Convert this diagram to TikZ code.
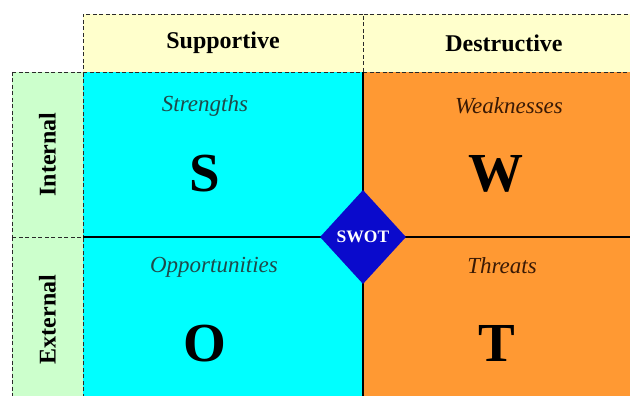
\documentclass[tikz,border=0pt]{standalone}
\usepackage{fontspec}
\setmainfont{Liberation Serif}
\usetikzlibrary{shapes.geometric}

\definecolor{headyellow}{HTML}{FFFFCC}
\definecolor{sidegreen}{HTML}{CCFFCC}
\definecolor{supcyan}{HTML}{00FFFF}
\definecolor{desorange}{HTML}{FF9933}
\definecolor{swotblue}{HTML}{0A0ACC}
\definecolor{tealtext}{HTML}{1F4A4A}
\definecolor{browntext}{HTML}{3A1A05}
\definecolor{dashgray}{HTML}{2A2A2A}

\begin{document}
\begin{tikzpicture}[x=1pt,y=-1pt,
  cell/.style={inner sep=0pt, outer sep=0pt, anchor=north west, minimum width=280pt, minimum height=165pt},
  framed/.style={draw=dashgray, dash pattern=on 4pt off 2.5pt, line width=0.9pt},
  header/.style={cell, framed, fill=headyellow, minimum height=58pt,
    font=\fontsize{24}{28}\selectfont\bfseries},
  side/.style={framed, fill=sidegreen, inner sep=0pt, outer sep=0pt, rotate=90,
    minimum width=165pt, minimum height=71pt, font=\fontsize{24}{28}\selectfont\bfseries},
  quadlabel/.style={font=\fontsize{23}{26}\selectfont\itshape, inner sep=0pt},
  bigletter/.style={font=\fontsize{55}{60}\selectfont\bfseries, inner sep=0pt},
  divider/.style={line width=1.8pt, black},
]
\useasboundingbox (0,0) rectangle (630,396);
\clip (0,0) rectangle (630,396);

% quadrant backgrounds
\node[cell, fill=supcyan] (S) at (83,72) {};
\node[cell, fill=desorange, minimum width=290pt] (W) at (363,72) {};
\node[cell, fill=supcyan] (O) at (83,237) {};
\node[cell, fill=desorange, minimum width=290pt] (T) at (363,237) {};

% column headers
\node[header] (sup) at (83,14) {Supportive};
\node[header, minimum width=282pt] (des) at (363,14) {Destructive};

% row headers
\node[side] (int) at (47.5,154.5) {Internal};
\node[side] (ext) at (47.5,319.5) {External};

% dividing cross
\draw[divider] (S.north east) -- (O.south east);
\draw[divider] (S.south west) -- (W.south east);

% quadrant labels
\node[quadlabel, text=tealtext] (lS) at (205,106) {Strengths};
\node[quadlabel, text=browntext] (lW) at (509,106) {Weaknesses};
\node[quadlabel, text=tealtext] (lO) at (214,267) {Opportunities};
\node[quadlabel, text=browntext] (lT) at (502,266) {Threats};

% quadrant letters
\node[bigletter] (bS) at (205,174) {S};
\node[bigletter] (bW) at (496,174) {W};
\node[bigletter] (bO) at (205,344) {O};
\node[bigletter] (bT) at (497,343) {T};

% centre badge
\node[diamond, fill=swotblue, text=white, inner sep=0pt, minimum width=86pt, minimum height=94pt,
  font=\fontsize{17.5}{20}\selectfont\bfseries] (swot) at (363,237) {SWOT};
\end{tikzpicture}
\end{document}
